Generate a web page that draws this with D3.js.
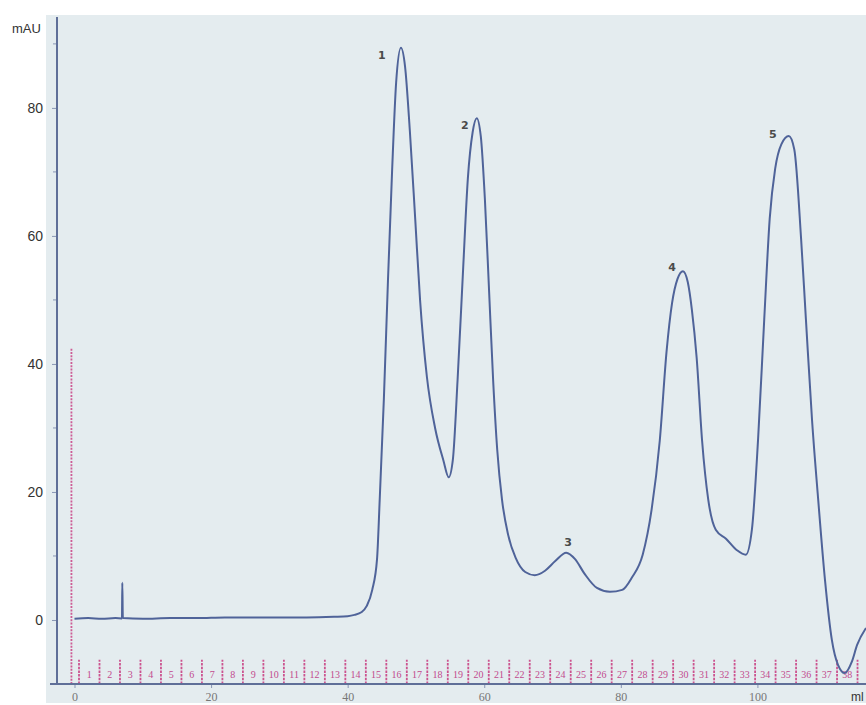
<!DOCTYPE html>
<html>
<head>
<meta charset="utf-8">
<script src="https://cdn.jsdelivr.net/npm/d3@7"></script>
<style>
  body { margin: 0; background: #ffffff; }
  #mainDiv { width: 866px; height: 705px; overflow: hidden; }
</style>
</head>
<body>
<div id="mainDiv"></div>
<script>
'use strict';

// elution volume (x) and absorbance in mAU (y)
var traceX = [0, 2, 4, 6, 6.95, 7.0, 7.08, 10, 14, 18, 22, 26, 30, 34, 38, 40, 41, 42, 42.8,
    43.6, 44.3, 44.7, 45.3, 45.9, 46.5, 47.1, 47.8, 48.4, 49.1, 49.9, 50.6, 51.6, 52.8, 54,
    54.8, 55.4, 56.1, 56.9, 57.6, 58.3, 58.9, 59.5, 60.1, 60.7, 61.3, 61.9, 62.6, 63.5, 64.6,
    66, 67.4, 68.9, 70.4, 72, 73.3, 74.7, 76.5, 78.4, 80.2, 81.6, 83.2, 84.5, 85.7, 86.7,
    87.5, 88.3, 89.1, 89.8, 90.4, 91.1, 91.9, 92.8, 93.9, 95.4, 97, 98.3, 99.2, 100.1, 101,
    101.8, 102.6, 103.5, 104.6, 105.4, 106.4, 107.1, 108, 108.9, 109.9, 110.9, 111.8, 112.8,
    113.8, 114.6, 115.9];
var traceY = [0.2, 0.3, 0.2, 0.3, 0.25, 5.8, 0.3, 0.2, 0.3, 0.3, 0.4, 0.4, 0.4, 0.4, 0.5, 0.6, 0.8, 1.2, 2.2,
    4.7, 9.5, 19, 34.5, 53, 70, 84, 89.4, 86.5, 76.5, 62.5, 50, 38, 30, 25,
    22.3, 25, 37.6, 54.7, 69, 76.2, 78.4, 75.5, 65.6, 51.6, 37.5, 26.6, 18.8, 13.3, 9.7,
    7.5, 7, 7.7, 9.2, 10.5, 9.5, 7.2, 5, 4.4, 4.7, 6.6, 10.2, 17.2, 28, 42,
    49.5, 53.3, 54.5, 52.8, 48.5, 41, 28, 18.8, 14.1, 12.7, 10.9, 10.2, 14.2, 28.3, 47,
    62.7, 70.5, 74.3, 75.6, 73.5, 59.5, 47, 31.2, 18.8, 6.2, -3.1, -7, -8.3,
    -6.6, -3.9, -1.25];

var peakNames = ["1", "2", "3", "4", "5"];
var peakX = [47.8, 58.9, 72, 89.1, 104.6];
var peakY = [89.4, 78.4, 10.5, 54.5, 75.6];

var yTicks = [0, 20, 40, 60, 80];
var yMinorTicks = [-10, 10, 30, 50, 70, 90];
var xTicks = [0, 20, 40, 60, 80, 100];

var injectX = -0.45;
var injectTop = 42.5;
var fractionStart = 0.66;
var fractionWidth = 3;
var fractionLabels = ["1", "2", "3", "4", "5", "6", "7", "8", "9", "10", "11", "12", "13",
    "14", "15", "16", "17", "18", "19", "20", "21", "22", "23", "24", "25", "26", "27", "28",
    "29", "30", "31", "32", "33", "34", "35", "36", "37", "38"];

var myApp = {};

myApp.width = 866;
myApp.height = 705;

myApp.x = d3.scaleLinear().domain([0, 115.9]).range([74.5, 866]);
myApp.y = d3.scaleLinear().domain([-10, 94.2]).range([684, 17]);

// pixel nudges for the peak numbers, relative to each apex
myApp.labelOffsets = [[-19, 7], [-12, 7], [2, -11], [-11, -4], [-16, -2]];

myApp.appendSvg = function (element, w, h)
{
    var node = d3.select(element).append("svg")
        .attr("width", w)
        .attr("height", h);
    return node;
}

myApp.drawPanel = function (svg)
{
    svg.append("rect")
        .attr("x", 46)
        .attr("y", 15)
        .attr("width", myApp.width - 46)
        .attr("height", 688)
        .attr("fill", "#e4ecef");
}

myApp.drawFractions = function (svg)
{
    var x = myApp.x, y = myApp.y;
    var pink = "#c8397f";
    var bounds = [];
    for (var i = 0; i <= fractionLabels.length; i++)
    {
        bounds.push(fractionStart + i * fractionWidth);
    }

    svg.append("line")
        .attr("x1", x(injectX)).attr("x2", x(injectX))
        .attr("y1", y(-10)).attr("y2", y(injectTop))
        .attr("stroke", pink)
        .attr("stroke-width", 1.8)
        .attr("stroke-dasharray", "2,1.3")
        .attr("opacity", 0.8);

    svg.selectAll("line.frac")
        .data(bounds)
        .enter()
        .append("line")
            .attr("class", "frac")
            .attr("x1", function (d) { return x(d); })
            .attr("x2", function (d) { return x(d); })
            .attr("y1", y(-10))
            .attr("y2", y(-6.2))
            .attr("stroke", pink)
            .attr("stroke-width", 1.8)
            .attr("stroke-dasharray", "2.5,1.2")
            .attr("opacity", 0.85);

    svg.selectAll("text.frac")
        .data(fractionLabels)
        .enter()
        .append("text")
            .attr("class", "frac")
            .text(function (d) { return d; })
            .attr("x", function (d, i) {
                return Math.min(x(bounds[i] + fractionWidth / 2), myApp.width - 7);
            })
            .attr("y", y(-9.1))
            .attr("text-anchor", "middle")
            .attr("font-family", "Liberation Serif, serif")
            .attr("font-size", "10px")
            .attr("fill", "#c24a8e");
}

myApp.drawAxes = function (svg)
{
    var x = myApp.x, y = myApp.y;
    var axisColor = "#5f6f98";
    var axisX = 57;

    // minor ticks on the left axis
    svg.selectAll("line.ymin")
        .data(yMinorTicks)
        .enter()
        .append("line")
            .attr("class", "ymin")
            .attr("x1", axisX - 4).attr("x2", axisX)
            .attr("y1", function (d) { return y(d); })
            .attr("y2", function (d) { return y(d); })
            .attr("stroke", "#8a97b5")
            .attr("stroke-width", 1);

    var yAxis = d3.axisLeft(y)
        .tickValues(yTicks)
        .tickSize(5)
        .tickPadding(9)
        .tickFormat(d3.format("d"));
    var gy = svg.append("g")
        .attr("transform", "translate(" + axisX + ",0)")
        .call(yAxis);
    gy.select(".domain").remove();
    gy.selectAll(".tick line").attr("stroke", "#8a97b5");
    gy.selectAll(".tick text")
        .attr("font-family", "Liberation Sans, Arial, sans-serif")
        .attr("font-size", "14px")
        .attr("fill", "#333");

    svg.append("line")
        .attr("x1", axisX).attr("x2", axisX)
        .attr("y1", y(94.2)).attr("y2", y(-10))
        .attr("stroke", axisColor)
        .attr("stroke-width", 2);

    var xAxis = d3.axisBottom(x)
        .tickValues(xTicks)
        .tickSize(4)
        .tickPadding(4);
    var gx = svg.append("g")
        .attr("transform", "translate(0," + y(-10) + ")")
        .call(xAxis);
    gx.select(".domain").remove();
    gx.selectAll(".tick line").attr("stroke", "#8a97b5");
    gx.selectAll(".tick text")
        .attr("font-family", "Liberation Serif, serif")
        .attr("font-size", "12px")
        .attr("fill", "#777");

    svg.append("line")
        .attr("x1", 50).attr("x2", myApp.width)
        .attr("y1", y(-10)).attr("y2", y(-10))
        .attr("stroke", axisColor)
        .attr("stroke-width", 2);

    svg.append("text")
        .text("mAU")
        .attr("x", 12)
        .attr("y", 33)
        .attr("font-family", "Liberation Sans, Arial, sans-serif")
        .attr("font-size", "13px")
        .attr("fill", "#333");

    svg.append("text")
        .text("ml")
        .attr("x", 851)
        .attr("y", 701)
        .attr("font-family", "Liberation Sans, Arial, sans-serif")
        .attr("font-size", "12px")
        .attr("fill", "#333");
}

myApp.drawTrace = function (svg)
{
    var x = myApp.x, y = myApp.y;
    var line = d3.line()
        .x(function (d, i) { return x(traceX[i]); })
        .y(function (d) { return y(d); })
        .curve(d3.curveMonotoneX);

    svg.append("path")
        .datum(traceY)
        .attr("d", line)
        .attr("fill", "none")
        .attr("stroke", "#4f6399")
        .attr("stroke-width", 2)
        .attr("stroke-linejoin", "round");

    svg.selectAll("text.peak")
        .data(peakNames)
        .enter()
        .append("text")
            .attr("class", "peak")
            .text(function (d) { return d; })
            .attr("x", function (d, i) { return x(peakX[i]) + myApp.labelOffsets[i][0]; })
            .attr("y", function (d, i) { return y(peakY[i]) + myApp.labelOffsets[i][1]; })
            .attr("dy", "0.35em")
            .attr("text-anchor", "middle")
            .attr("font-family", "DejaVu Sans, sans-serif")
            .attr("font-size", "11px")
            .attr("font-weight", "bold")
            .attr("fill", "#4a4a4a");
}

myApp.run = function ()
{
    var svg = myApp.appendSvg("#mainDiv", myApp.width, myApp.height);
    myApp.drawPanel(svg);
    myApp.drawFractions(svg);
    myApp.drawAxes(svg);
    myApp.drawTrace(svg);
}

window.onload = myApp.run;
</script>
</body>
</html>
